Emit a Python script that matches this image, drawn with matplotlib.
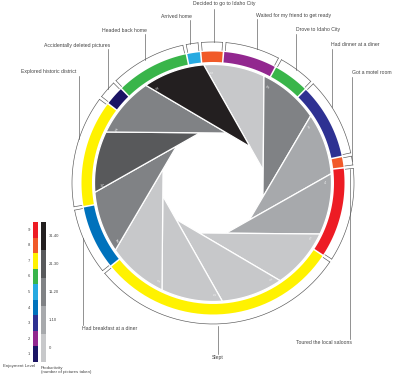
import numpy as np
import matplotlib
matplotlib.use("agg")
import matplotlib.pyplot as plt
from matplotlib.patches import Polygon

# timeline of the trip, clockwise from the top, durations in minutes (24 h = full circle)
activities = ["Decided to go to Idaho City", "Waited for my friend to get ready",
              "Drove to Idaho City", "Had dinner at a diner", "Got a motel room",
              "Toured the local saloons", "Slept", "Had breakfast at a diner",
              "Explored historic district", "Accidentally deleted pictures",
              "Headed back home", "Arrived home"]
minutes = [40, 95, 65, 135, 20, 160, 430, 115, 190, 35, 130, 25]
enjoyment = [8, 2, 6, 3, 8, 9, 7, 4, 7, 1, 6, 5]

# pictures taken in each two-hour block
pictures = [0, 17, 8, 4, 0, 0, 0, 0, 14, 28, 11, 32]

enjoy_colors = {1: "#1b1464", 2: "#92278f", 3: "#2e3192", 4: "#0072bc", 5: "#27aae1",
                6: "#39b54a", 7: "#fff200", 8: "#f15a29", 9: "#ed1c24"}
prod_labels = ["0", "1-10", "11-20", "21-30", "31-40"]
prod_colors = ["#c7c8ca", "#a7a9ac", "#808285", "#58595b", "#231f20"]

cx, cy = 213, 183
R_WEDGE = 118.5
R_IN, R_OUT = 121, 131.5
R_BOX0, R_BOX1 = 133, 141
START = 354.6       # angle of the first activity (deg, clockwise from top)
BLOCK_START = 355.5
TWIST = 25          # aperture blade twist


def pt(theta, r):
    t = np.radians(theta)
    return np.array([cx + r * np.sin(t), cy - r * np.cos(t)])


def arc(a, b, r, n=40):
    return np.array([pt(t, r) for t in np.linspace(a, b, n)])


def prod_bin(n):
    if n == 0:
        return 0
    return min(4, (n - 1) // 10 + 1)


fig = plt.figure(figsize=(4.0, 3.86), dpi=100)
ax = fig.add_axes([0, 0, 1, 1])
ax.set_xlim(0, 400)
ax.set_ylim(386, 0)
ax.axis("off")

# aperture blades
n = len(pictures)
angles = [BLOCK_START + 360 / n * i for i in range(n + 1)]
c, s = np.cos(np.radians(-TWIST)), np.sin(np.radians(-TWIST))


def blade_line(theta):
    p = pt(theta, R_WEDGE)
    d = np.array([cx, cy]) - p
    d = d / np.linalg.norm(d)
    d = np.array([d[0] * c - d[1] * s, d[0] * s + d[1] * c])
    return p, d


for i, val in enumerate(pictures):
    a, b = angles[i], angles[i + 1]
    p1, d1 = blade_line(a)
    p2, d2 = blade_line(b)
    m = np.array([d1, -d2]).T
    t = np.linalg.solve(m, p2 - p1)
    tip = p1 + t[0] * d1
    verts = np.vstack([arc(a, b, R_WEDGE), tip])
    ax.add_patch(Polygon(verts, closed=True, facecolor=prod_colors[prod_bin(val)],
                         edgecolor="white", linewidth=0.9))
    lp = pt(a + 4.5, R_WEDGE - 7)
    ax.text(lp[0], lp[1], str(val), fontsize=2.6, color="white", alpha=0.75,
            ha="center", va="center", rotation=-(a + 4.5) + 90)

# enjoyment ring and outer boxes
edges = START + np.concatenate([[0], np.cumsum(minutes)]) / 1440 * 360
for i, lvl in enumerate(enjoyment):
    a, b = edges[i], edges[i + 1]
    verts = np.vstack([arc(a + 0.35, b - 0.35, R_OUT), arc(b - 0.35, a + 0.35, R_IN)])
    ax.add_patch(Polygon(verts, closed=True, facecolor=enjoy_colors[lvl],
                         edgecolor="none"))
    g = 0.7
    box = arc(a + g, b - g, R_BOX1)
    ax.plot(box[:, 0], box[:, 1], color="#555555", lw=0.45)
    for e in (a + g, b - g):
        q0, q1 = pt(e, R_BOX0), pt(e, R_BOX1)
        ax.plot([q0[0], q1[0]], [q0[1], q1[1]], color="#555555", lw=0.45)

# labels with leader lines: (text x, text y, ha, line x, line y0, line y1)
leaders = [
    (224, 4, "center", 214, 9, 42),
    (256, 15, "left", 257, 19, 49),
    (296, 30, "left", 296, 34, 70),
    (331, 45, "left", 332, 49, 107),
    (352, 73, "left", 352, 77, 161),
    (352, 343, "right", 350, 169, 339),
    (218, 358, "center", 218, 326, 354),
    (82, 329, "left", 83, 238, 325),
    (76, 72, "right", 79, 76, 139),
    (110, 45, "right", 108, 49, 89),
    (147, 30, "right", 145, 34, 60),
    (192, 16, "right", 190, 20, 44),
]
for name, (tx, ty, ha, lx, y0, y1) in zip(activities, leaders):
    ax.plot([lx, lx], [y0, y1], color="#555555", lw=0.45)
    ax.text(tx, ty, name, fontsize=3.7, color="#444444", ha=ha, va="center",
            family="Liberation Sans")

# legend bars
top, bottom = 222, 362
h = (bottom - top) / 9
for lvl in range(1, 10):
    y = bottom - lvl * h
    ax.add_patch(plt.Rectangle((33, y), 5, h, facecolor=enjoy_colors[lvl], edgecolor="none"))
    ax.text(30, y + h / 2, str(lvl), fontsize=3.0, color="#444444", ha="right", va="center",
            family="Liberation Sans")
h2 = (bottom - top) / 5
for k, (lab, col) in enumerate(zip(prod_labels, prod_colors)):
    y = bottom - (k + 1) * h2
    ax.add_patch(plt.Rectangle((41, y), 5, h2, facecolor=col, edgecolor="none"))
    ax.text(49, y + h2 / 2, lab, fontsize=3.0, color="#444444", ha="left", va="center",
            family="Liberation Sans")
ax.text(3, 366, "Enjoyment Level", fontsize=3.2, color="#444444", ha="left", va="center",
        family="Liberation Sans")
ax.text(41, 366, "Productivity\n(number of pictures taken)", fontsize=3.2, color="#444444",
        ha="left", va="top", family="Liberation Sans", linespacing=1.1)

fig.savefig("out.png", dpi=100)
